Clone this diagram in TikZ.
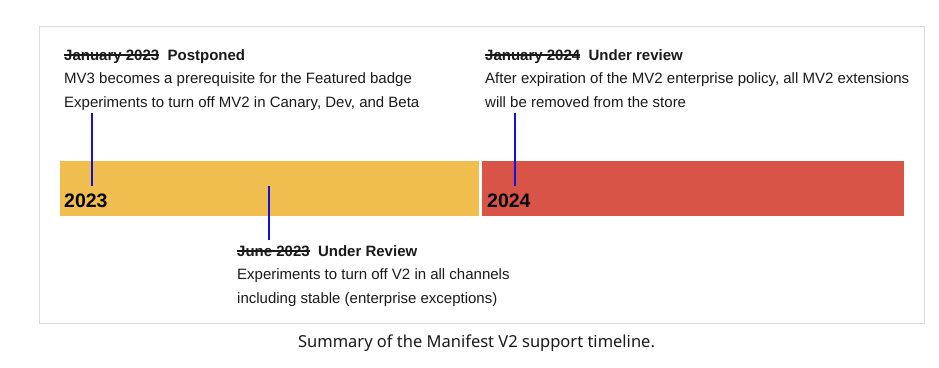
\documentclass[tikz,border=0pt]{standalone}
\usepackage{fontspec}
\setmainfont{Liberation Sans}
\newfontfamily\capfont{Noto Sans}
\usetikzlibrary{positioning}
\definecolor{barYellow}{HTML}{F0BE4E}
\definecolor{barRed}{HTML}{D85447}
\definecolor{frameGray}{HTML}{DCDCDC}
\definecolor{tickBlue}{HTML}{1212DC}
\definecolor{inkBlack}{HTML}{1A1A1A}
\newsavebox\strikebox
\newcommand{\struck}[1]{\sbox\strikebox{#1}%
  \rlap{\rule[0.3em]{\wd\strikebox}{1.3pt}}\usebox\strikebox}

\begin{document}
\begin{tikzpicture}[x=1pt,y=-1pt,
  note/.style={anchor=north west,inner sep=0pt,align=left,text=inkBlack,
    font=\fontsize{15}{23.6}\selectfont},
  bar/.style={anchor=north west,inner sep=0pt,minimum height=55pt},
  year/.style={anchor=base west,inner sep=0pt,text=black,
    font=\bfseries\fontsize{19.5}{20}\selectfont},
  tick/.style={draw=tickBlue,line width=2pt}]
\useasboundingbox (0,0) rectangle (939,367);
\draw[frameGray] (39.5,26.5) rectangle (924.5,323.5);

% the two years
\node[bar,fill=barYellow,minimum width=419pt] (y23) at (60,161) {};
\node[bar,fill=barRed,minimum width=422pt] (y24) at (482,161) {};
\node[year] (l23) at (64,207.5) {2023};
\node[year] (l24) at (487,207.5) {2024};

% milestones
\node[note] (ev1) at (64,49) {\textbf{\struck{January 2023}\ \ Postponed}\\
  MV3 becomes a prerequisite for the Featured badge\\
  Experiments to turn off MV2 in Canary, Dev, and Beta};
\node[note] (ev2) at (485,49) {\textbf{\struck{January 2024}\ \ Under review}\\
  After expiration of the MV2 enterprise policy, all MV2 extensions\\
  will be removed from the store};
\node[note] (ev3) at (237,245) {\textbf{\struck{June 2023}\ \ Under Review}\\
  Experiments to turn off V2 in all channels\\
  including stable (enterprise exceptions)};

\coordinate (t1) at (92,113);
\coordinate (t2) at (269,240);
\coordinate (t3) at (515,113);
\draw[tick] (t1) -- (t1 |- 0,186);
\draw[tick] (t2) -- (t2 |- 0,186);
\draw[tick] (t3) -- (t3 |- 0,186);

\node[anchor=base,inner sep=0pt,text=inkBlack,font=\capfont\fontsize{16.5}{18}\selectfont]
  (cap) at (476.5,347) {Summary of the Manifest V2 support timeline.};
\end{tikzpicture}
\end{document}
